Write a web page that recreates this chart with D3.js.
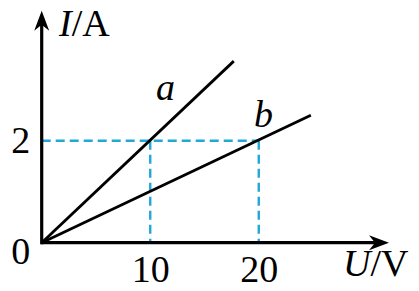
<!DOCTYPE html>
<html><head><meta charset="utf-8">
<script src="https://cdn.jsdelivr.net/npm/d3@7/dist/d3.min.js"></script>
<style>html,body{margin:0;padding:0;background:#fff;}</style>
</head><body>
<svg id="c" width="419" height="291"></svg>
<script>
// Data
const lineNames = ["a", "b"];
const lineA = [[0, 0], [17.7, 3.56]];
const lineB = [[0, 0], [24.8, 2.5]];
const xTicks = [10, 20];
const yTicks = [2];
const guideU = [10, 20];
const guideI = 2;

const svg = d3.select("#c");
const x = d3.scaleLinear().domain([0, 32]).range([41.7, 389]);
const y = d3.scaleLinear().domain([0, 2]).range([242.7, 140.7]);
const xMax = 32, yMax = 4.55;
const font = "'Liberation Serif','DejaVu Serif',serif";
const blue = "#23a6d8";
const fs = 38;

// guides (dashed)
const g = svg.append("g");
g.append("line").attr("x1", x(0)).attr("x2", x(guideU[1])).attr("y1", y(guideI)).attr("y2", y(guideI))
  .attr("stroke", blue).attr("stroke-width", 2.4).attr("stroke-dasharray", "9,5");
guideU.forEach(u => {
  g.append("line").attr("x1", x(u)).attr("x2", x(u)).attr("y1", y(guideI)).attr("y2", y(0))
    .attr("stroke", blue).attr("stroke-width", 2.4).attr("stroke-dasharray", "9,5");
});

// data lines
const line = d3.line().x(d => x(d[0])).y(d => y(d[1]));
[lineA, lineB].forEach(d => {
  svg.append("path").attr("d", line(d)).attr("fill", "none").attr("stroke", "#000").attr("stroke-width", 2.8);
});

// axes
svg.append("line").attr("x1", x(0)).attr("x2", x(xMax) - 10).attr("y1", y(0)).attr("y2", y(0))
  .attr("stroke", "#000").attr("stroke-width", 3.2);
svg.append("line").attr("x1", x(0)).attr("x2", x(0)).attr("y1", y(0) + 1.6).attr("y2", y(yMax) + 10)
  .attr("stroke", "#000").attr("stroke-width", 3.2);
// arrowheads
const tx = x(xMax), ty = y(0);
svg.append("path").attr("d", `M${tx},${ty} L${tx-20},${ty-7.5} L${tx-14},${ty} L${tx-20},${ty+7.5} Z`).attr("fill", "#000");
const ax = x(0), ay = y(yMax);
svg.append("path").attr("d", `M${ax},${ay} L${ax-7.5},${ay+20} L${ax},${ay+14} L${ax+7.5},${ay+20} Z`).attr("fill", "#000");

// tick labels
const xAxis = d3.axisBottom(x).tickValues(xTicks).tickSize(0).tickPadding(0).tickFormat(d3.format("d"));
const xg = svg.append("g").attr("transform", `translate(0,${y(0)})`).call(xAxis);
xg.select(".domain").remove();
xg.selectAll("text").attr("font-family", font).attr("font-size", fs).attr("fill", "#000")
  .attr("dy", null).attr("y", 39);
const yAxis = d3.axisLeft(y).tickValues(yTicks).tickSize(0).tickPadding(0).tickFormat(d3.format("d"));
const yg = svg.append("g").attr("transform", `translate(${x(0)},0)`).call(yAxis);
yg.select(".domain").remove();
yg.selectAll("text").attr("font-family", font).attr("font-size", fs).attr("fill", "#000")
  .attr("text-anchor", "middle").attr("x", -21).attr("dy", null).attr("y", 12);
svg.append("text").attr("x", x(0) - 21).attr("y", y(0) + 21).attr("text-anchor", "middle")
  .attr("font-family", font).attr("font-size", fs).text("0");

// axis titles
const ty1 = svg.append("text").attr("x", 59).attr("y", 36).attr("font-family", font).attr("font-size", fs);
ty1.append("tspan").attr("font-style", "italic").text("I");
ty1.append("tspan").text("/A");
const tx1 = svg.append("text").attr("x", 343).attr("y", 276).attr("font-family", font).attr("font-size", fs);
tx1.append("tspan").attr("font-style", "italic").text("U");
tx1.append("tspan").text("/V");

// line labels
svg.append("text").attr("x", 156).attr("y", 100).attr("font-family", font).attr("font-size", fs)
  .attr("font-style", "italic").text(lineNames[0]);
svg.append("text").attr("x", 254).attr("y", 127).attr("font-family", font).attr("font-size", fs)
  .attr("font-style", "italic").text(lineNames[1]);
</script>
</body></html>
